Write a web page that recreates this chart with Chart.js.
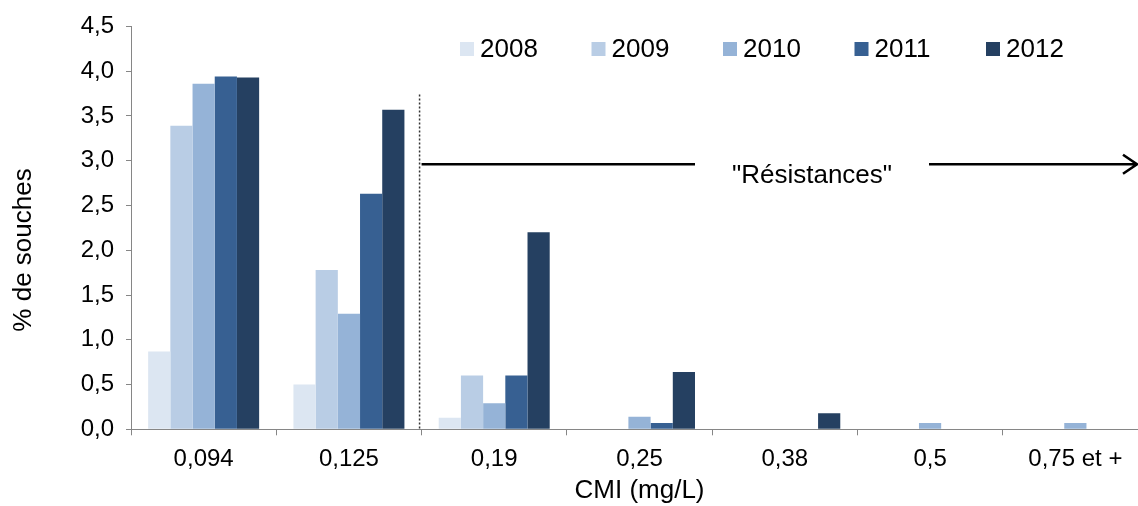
<!DOCTYPE html>
<html>
<head>
<meta charset="utf-8">
<script src="https://cdn.jsdelivr.net/npm/chart.js@4/dist/chart.umd.min.js"></script>
<style>
  html, body { margin: 0; padding: 0; background: #fff; overflow: hidden; }
  #wrap { position: relative; width: 1150px; height: 506px; }
</style>
</head>
<body>
<div id="wrap"><canvas id="c"></canvas></div>
<script>
// CMI categories (mg/L)
var categories = ['0,094', '0,125', '0,19', '0,25', '0,38', '0,5', '0,75 et +'];
var years = ['2008', '2009', '2010', '2011', '2012'];

// % de souches par année
var v2008 = [0.87, 0.50, 0.13, 0, 0, 0, 0];
var v2009 = [3.39, 1.78, 0.60, 0, 0, 0, 0];
var v2010 = [3.86, 1.29, 0.29, 0.14, 0, 0.07, 0.07];
var v2011 = [3.94, 2.63, 0.60, 0.07, 0, 0, 0];
var v2012 = [3.93, 3.57, 2.20, 0.64, 0.18, 0, 0];

var yTicks = [0, 0.5, 1, 1.5, 2, 2.5, 3, 3.5, 4, 4.5];
var yTitle = '% de souches';
var arrowLabel = '"Résistances"';

var colors = ['#dce6f2', '#b9cde5', '#95b3d7', '#376092', '#254061'];
var series = [v2008, v2009, v2010, v2011, v2012];
var FONT = '"Liberation Sans", Arial, sans-serif';

var datasets = years.map(function(y, i) {
    return { label: y, data: series[i], backgroundColor: colors[i], borderWidth: 0 };
});

function comma(v) { return Number(v).toFixed(1).replace('.', ','); }

// legend drawn inside the plot area, Excel style
var legendPlugin = {
    id: 'inlineLegend',
    afterDraw: function(chart) {
	var ctx = chart.ctx;
	var area = chart.chartArea;
	ctx.save();
	ctx.font = '26px ' + FONT;
	ctx.textBaseline = 'middle';
	ctx.textAlign = 'left';
	chart.data.datasets.forEach(function(ds, i) {
	    var x = area.left + 329 + i * 131.5;
	    ctx.fillStyle = ds.backgroundColor;
	    ctx.fillRect(x, 42, 14, 14);
	    ctx.fillStyle = '#000';
	    ctx.fillText(ds.label, x + 20, 50);
	});
	// y title sits a bit lower than the plot centre in the original
	ctx.translate(24, 250);
	ctx.rotate(-Math.PI / 2);
	ctx.textAlign = 'center';
	ctx.fillText(yTitle, 0, 0);
	ctx.restore();
    }
};

// dotted separator + "Résistances" arrow
var annotPlugin = {
    id: 'resistArrow',
    afterDatasetsDraw: function(chart) {
	var ctx = chart.ctx;
	var xs = chart.scales.x, ys = chart.scales.y;
	var xb = (xs.getPixelForValue(1) + xs.getPixelForValue(2)) / 2;
	var yTop = ys.getPixelForValue(3.74);
	var yBot = ys.getPixelForValue(0);
	var yArr = ys.getPixelForValue(2.96);
	ctx.save();
	ctx.strokeStyle = '#333';
	ctx.lineWidth = 1.5;
	ctx.setLineDash([2, 2]);
	ctx.beginPath();
	ctx.moveTo(xb - 2, yTop);
	ctx.lineTo(xb - 2, yBot);
	ctx.stroke();
	ctx.setLineDash([]);

	var tx = chart.chartArea.left + 681;
	var tipX = chart.chartArea.left + 1006;
	ctx.strokeStyle = '#000';
	ctx.lineWidth = 2.6;
	ctx.beginPath();
	ctx.moveTo(xb, yArr);
	ctx.lineTo(tx - 117, yArr);
	ctx.moveTo(tx + 117, yArr);
	ctx.lineTo(tipX, yArr);
	ctx.moveTo(tipX - 14, yArr - 9.5);
	ctx.lineTo(tipX, yArr);
	ctx.lineTo(tipX - 14, yArr + 9.5);
	ctx.stroke();

	ctx.fillStyle = '#000';
	ctx.font = '26px ' + FONT;
	ctx.textAlign = 'center';
	ctx.textBaseline = 'middle';
	ctx.fillText(arrowLabel, tx, yArr + 12);
	ctx.restore();
    }
};

var chart = new Chart(document.getElementById('c').getContext('2d'), {
    type: 'bar',
    data: { labels: categories, datasets: datasets },
    plugins: [legendPlugin, annotPlugin],
    options: {
	responsive: true,
	maintainAspectRatio: false,
	animation: false,
	layout: { padding: { left: 0, right: 2, top: 23, bottom: 0 } },
	plugins: { legend: { display: false }, tooltip: { enabled: false } },
	datasets: { bar: { categoryPercentage: 0.764, barPercentage: 1.0 } },
	scales: {
	    x: {
		grid: { display: true, drawOnChartArea: false, offset: true, tickLength: 6, color: '#868686', tickColor: '#868686' },
		border: { display: true, color: '#868686', width: 1 },
		ticks: { color: '#000', font: { family: FONT, size: 24 }, padding: 10, maxRotation: 0, autoSkip: false },
		title: { display: true, text: 'CMI (mg/L)', color: '#000', font: { family: FONT, size: 26 }, padding: { top: 0, bottom: 0 } },
		afterFit: function(s) { s.height = 76.7; }
	    },
	    y: {
		min: 0,
		max: 4.5,
		afterBuildTicks: function(s) { s.ticks = yTicks.map(function(v) { return { value: v }; }); },
		grid: { display: true, drawOnChartArea: false, tickLength: 5, color: '#868686', tickColor: '#868686' },
		border: { display: true, color: '#868686', width: 1 },
		ticks: { color: '#000', font: { family: FONT, size: 24 }, padding: 12, callback: function(v) { return comma(v); } },
		title: { display: false },
		afterFit: function(s) { s.width = 131; }
	    }
	}
    }
});
</script>
</body>
</html>
